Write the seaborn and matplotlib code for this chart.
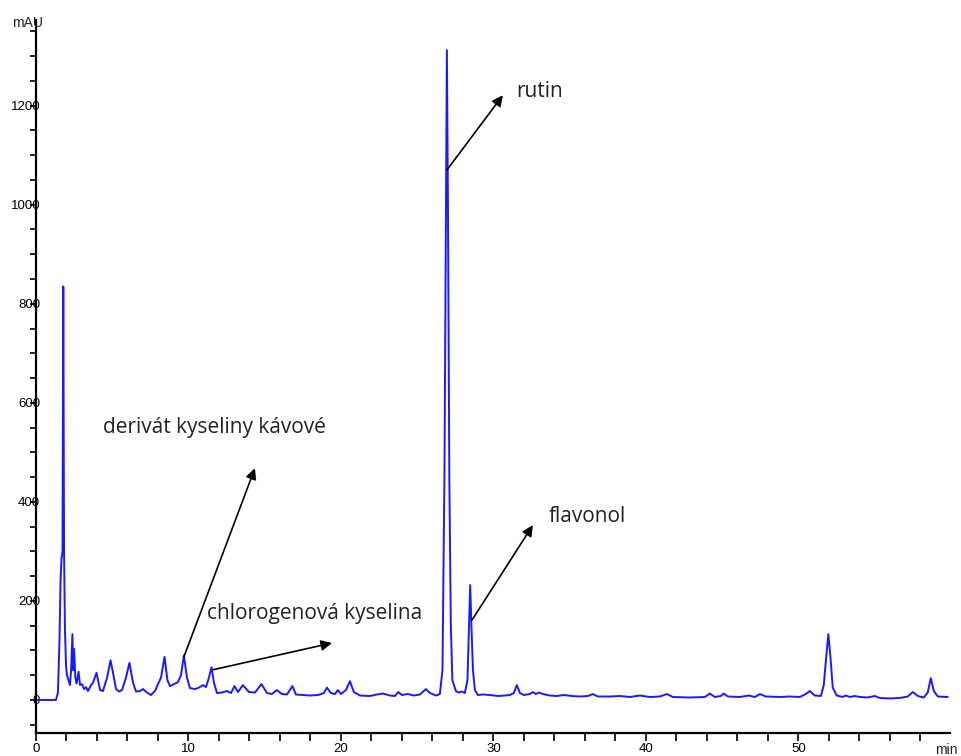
import matplotlib
matplotlib.use("Agg")
import matplotlib.pyplot as plt
from matplotlib.ticker import MultipleLocator, FixedLocator
import seaborn as sns
import pandas as pd

# Chromatogram trace: retention time (min) and detector signal (mAU)
time_min = [
    0.00, 1.31, 1.44, 1.54, 1.61, 1.67, 1.74, 1.79, 1.84, 1.90, 1.97, 2.03, 2.13,
    2.23, 2.30, 2.39, 2.44, 2.50, 2.58, 2.66, 2.79, 2.89, 3.02, 3.15, 3.28, 3.41,
    3.61, 3.74, 3.97, 4.20, 4.39, 4.66, 4.89, 5.05, 5.25, 5.44, 5.64, 5.90, 6.13,
    6.36, 6.56, 6.82, 7.02, 7.28, 7.54, 7.80, 8.00, 8.20, 8.43, 8.62, 8.79, 9.05,
    9.31, 9.51, 9.70, 9.90, 10.10, 10.43, 10.69, 10.95, 11.15, 11.34, 11.51, 11.67,
    11.87, 12.20, 12.52, 12.79, 13.02, 13.25, 13.57, 13.97, 14.36, 14.79, 15.15,
    15.48, 15.80, 16.13, 16.46, 16.82, 17.05, 17.51, 17.97, 18.49, 18.89, 19.08,
    19.34, 19.61, 19.80, 20.00, 20.33, 20.59, 20.85, 21.25, 21.90, 22.36, 22.75,
    23.21, 23.54, 23.77, 24.00, 24.39, 24.79, 25.18, 25.57, 25.84, 26.23, 26.49,
    26.66, 26.79, 26.89, 26.95, 27.02, 27.11, 27.21, 27.31, 27.54, 27.74, 27.93,
    28.13, 28.30, 28.40, 28.48, 28.56, 28.66, 28.79, 28.98, 29.31, 29.77, 30.30,
    30.75, 31.08, 31.34, 31.54, 31.74, 32.00, 32.39, 32.59, 32.79, 32.98, 33.25,
    33.70, 34.16, 34.62, 35.15, 35.67, 36.20, 36.52, 36.85, 37.64, 38.30, 38.95,
    39.61, 40.26, 40.92, 41.38, 41.77, 42.89, 43.87, 44.20, 44.52, 44.92, 45.11,
    45.38, 46.16, 46.75, 47.15, 47.48, 47.87, 48.79, 49.44, 50.10, 50.49, 50.75,
    51.08, 51.48, 51.67, 51.84, 51.97, 52.10, 52.26, 52.52, 52.92, 53.11, 53.38,
    53.70, 54.03, 54.56, 55.02, 55.34, 56.00, 56.66, 57.18, 57.51, 57.84, 58.23,
    58.49, 58.69, 58.89, 59.15, 59.80,
]
signal_mau = [
    0, 0, 15, 120, 240, 285, 300, 835, 300, 140, 70, 50, 40,
    30, 60, 133, 60, 103, 45, 33, 57, 30, 32, 22, 26, 18,
    30, 35, 55, 20, 18, 45, 80, 55, 22, 17, 20, 45, 75,
    35, 17, 18, 22, 15, 10, 18, 32, 45, 87, 40, 28, 32,
    36, 50, 90, 45, 24, 22, 25, 30, 26, 45, 66, 35,
    14, 15, 18, 14, 28, 16, 30, 16, 15, 32, 14,
    12, 20, 12, 11, 28, 11, 10, 9, 10, 14, 25,
    14, 12, 20, 12, 20, 38, 16, 9, 8, 11, 13,
    9, 8, 16, 10, 12, 9, 11, 22, 14, 9, 12,
    60, 450, 1000, 1312, 1000, 450, 150, 40, 18, 15, 17,
    14, 40, 150, 232, 150, 60, 20, 10, 11, 10, 8,
    9, 10, 14, 30, 14, 10, 12, 16, 12, 15, 12,
    9, 8, 10, 8, 7, 8, 12, 7, 7, 8, 6,
    9, 6, 7, 12, 6, 5, 6, 13, 6, 8, 13,
    7, 6, 9, 6, 12, 7, 6, 7, 6, 12, 18,
    9, 8, 30, 90, 133, 90, 25, 9, 6, 9, 6,
    8, 6, 5, 8, 4, 3, 4, 7, 16, 8, 5,
    15, 44, 18, 7, 6,
]

# Annotated compounds: label, label anchor, arrow tail (on the peak), arrow head
labels = ["rutin", "derivát kyseliny kávové", "flavonol", "chlorogenová kyselina"]
label_pos = [(31.5, 1229), (4.4, 551), (33.6, 371), (11.2, 174)]
arrow_tail = [(26.95, 1070), (9.70, 87), (28.59, 161), (11.61, 61)]
arrow_head = [(30.62, 1221), (14.36, 468), (32.59, 353), (19.41, 115)]

x_major = [0, 10, 20, 30, 40, 50]
y_major = [0, 200, 400, 600, 800, 1000, 1200]

sns.set_style("ticks")
plt.rcParams["font.family"] = ["Liberation Sans", "DejaVu Sans"]

fig = plt.figure(figsize=(9.62, 7.56), dpi=100)
ax = fig.add_axes([36 / 962, 1 - 733 / 756, 914 / 962, 713 / 756])

df = pd.DataFrame({"time": time_min, "signal": signal_mau})
sns.lineplot(data=df, x="time", y="signal", ax=ax, color="#1a1aff",
             linewidth=1.4, estimator=None)

ax.set_xlim(0, 59.95)
ax.set_ylim(-66.7, 1373)
ax.set_xlabel("")
ax.set_ylabel("")

for side in ("top", "right"):
    ax.spines[side].set_visible(False)
for side in ("left", "bottom"):
    ax.spines[side].set_linewidth(1.6)
    ax.spines[side].set_color("black")

ax.xaxis.set_major_locator(FixedLocator(x_major))
ax.xaxis.set_minor_locator(MultipleLocator(2))
ax.yaxis.set_major_locator(FixedLocator(y_major))
ax.yaxis.set_minor_locator(MultipleLocator(50))

ax.tick_params(axis="x", which="both", direction="out", length=6, width=1.2,
               pad=1, labelsize=9.5, colors="black")
ax.tick_params(axis="y", which="both", direction="out", length=4, width=1.2,
               pad=-7, labelsize=9.5, colors="black")
for lab in ax.get_yticklabels():
    lab.set_horizontalalignment("right")

# Axis unit captions
fig.text(12 / 962, 1 - 23 / 756, "mAU", fontsize=10, va="center", ha="left")
fig.text(935 / 962, 1 - 750 / 756, "min", fontsize=10, va="center", ha="left")

for text, pos, tail, head in zip(labels, label_pos, arrow_tail, arrow_head):
    ax.text(pos[0], pos[1], text, fontsize=15, family=["Open Sans", "DejaVu Sans"],
            va="center", ha="left", color="#222222")
    ax.annotate("", xy=head, xytext=tail,
                arrowprops=dict(arrowstyle="-|>", color="black", lw=1.2,
                                mutation_scale=16, shrinkA=0, shrinkB=0))

fig.savefig("out.png", dpi=100, facecolor="white")
